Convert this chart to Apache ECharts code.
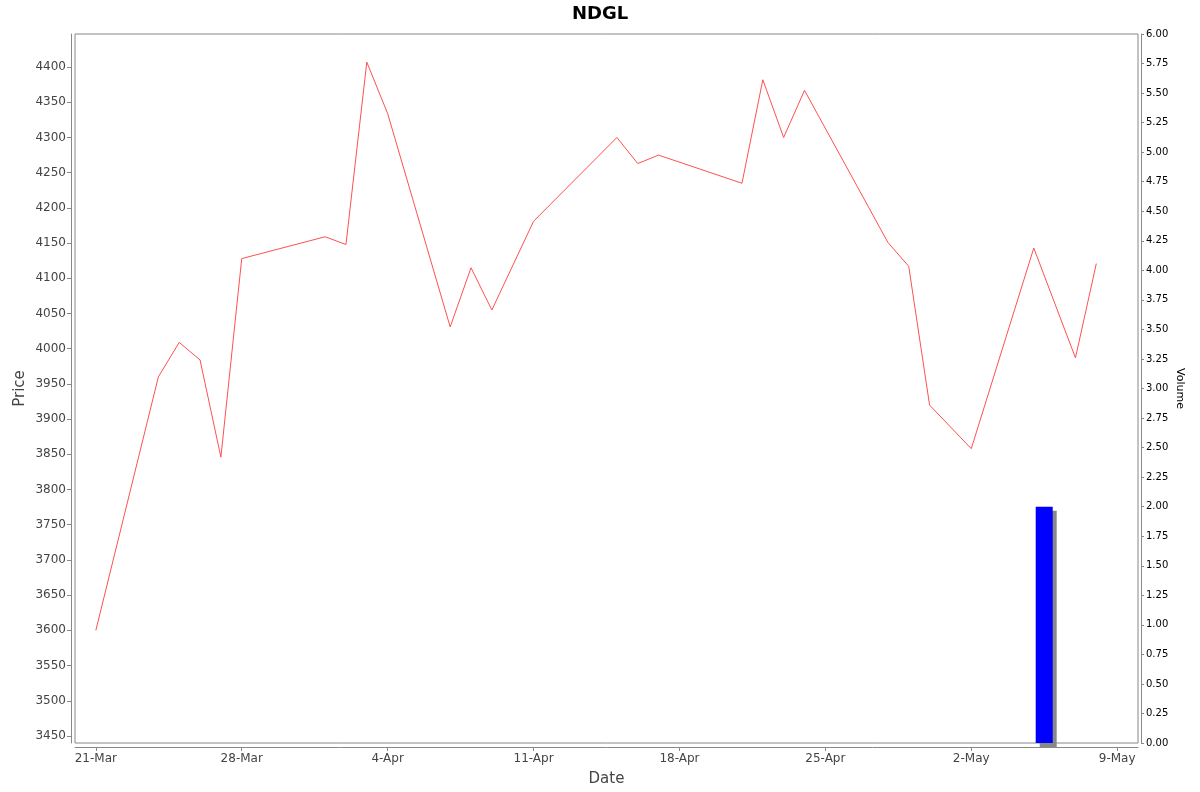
<!DOCTYPE html>
<html><head><meta charset="utf-8">
<script src="https://cdn.jsdelivr.net/npm/echarts@6/dist/echarts.min.js"></script>
<style>html,body{margin:0;padding:0;background:#fff}#c{width:1200px;height:792px}</style>
</head><body><div id="c"></div>
<script>
const dates = ['2025-03-21','2025-03-24','2025-03-25','2025-03-26','2025-03-27','2025-03-28',
 '2025-04-01','2025-04-02','2025-04-03','2025-04-04','2025-04-07','2025-04-08','2025-04-09',
 '2025-04-11','2025-04-15','2025-04-16','2025-04-17','2025-04-21','2025-04-22','2025-04-23',
 '2025-04-24','2025-04-28','2025-04-29','2025-04-30','2025-05-02','2025-05-05','2025-05-07','2025-05-08'];
const prices = [3600,3960,4009,3984,3846,4128,4159,4148,4407,4334,4031,4115,4055,4181,4300,4263,4275,4235,4382,4300,4367,4151,4117,3920,3858,4143,3987,4121];
const volumeDates = ['2025-05-05 12:00'];
const volumes = [2];
const xTickDates = ['2025-03-21','2025-03-28','2025-04-04','2025-04-11','2025-04-18','2025-04-25','2025-05-02','2025-05-09'];
const priceTicks = [3450,3500,3550,3600,3650,3700,3750,3800,3850,3900,3950,4000,4050,4100,4150,4200,4250,4300,4350,4400];
const monthNames = ['Jan','Feb','Mar','Apr','May','Jun','Jul','Aug','Sep','Oct','Nov','Dec'];

function toMs(s){
  const m = s.match(/^(\d+)-(\d+)-(\d+)(?: (\d+):(\d+))?$/);
  return new Date(+m[1], +m[2]-1, +m[3], m[4]?+m[4]:0, m[5]?+m[5]:0).getTime();
}
const priceData = dates.map((d,i)=>[toMs(d), prices[i]]);
const volData = volumeDates.map((d,i)=>[toMs(d), volumes[i]]);
const xTicks = xTickDates.map(toMs);

const chart = echarts.init(document.getElementById('c'));
chart.setOption({
  animation:false,
  backgroundColor:'#fff',
  title:{text:'NDGL', left:'center', top:3, padding:[2,5], textStyle:{fontFamily:'DejaVu Sans', fontWeight:'bold', fontSize:18, color:'#000'}},
  grid:{left:75, right:62, top:34, bottom:49, show:true, borderColor:'#888', borderWidth:1, backgroundColor:'#fff'},
  xAxis:{
    type:'value', min:toMs('2025-03-20'), max:toMs('2025-05-10'), offset:4, scale:true,
    name:'Date', nameLocation:'middle', nameGap:25, nameMoveOverlap:false,
    nameTextStyle:{fontFamily:'DejaVu Sans', fontSize:15, color:'#444'},
    axisLine:{show:true, onZero:false, lineStyle:{color:'#888'}},
    axisTick:{show:true, length:4, customValues:xTicks, lineStyle:{color:'#888'}},
    axisLabel:{customValues:xTicks, color:'#444', fontFamily:'DejaVu Sans', fontSize:12, margin:6,
      formatter:v=>{const d=new Date(v);return d.getDate()+'-'+monthNames[d.getMonth()];}},
    splitLine:{show:false}
  },
  yAxis:[{
    type:'value', min:3440, max:4447, offset:4, position:'left',
    name:'Price', nameLocation:'middle', nameGap:43, nameMoveOverlap:false,
    nameTextStyle:{fontFamily:'DejaVu Sans', fontSize:15, color:'#444'},
    axisLine:{show:true, onZero:false, lineStyle:{color:'#888'}},
    axisTick:{show:true, length:4, customValues:priceTicks, lineStyle:{color:'#888'}},
    axisLabel:{customValues:priceTicks, color:'#444', fontFamily:'DejaVu Sans', fontSize:12, margin:5, formatter:v=>String(v)},
    splitLine:{show:false}
  },{
    type:'value', min:0, max:6, interval:0.25, offset:3, position:'right',
    name:'Volume', nameLocation:'middle', nameGap:33, nameRotate:-90, nameMoveOverlap:false,
    nameTextStyle:{fontFamily:'DejaVu Sans', fontSize:11, color:'#000'},
    axisLine:{show:true, onZero:false, lineStyle:{color:'#888'}},
    axisTick:{show:true, length:3, lineStyle:{color:'#888'}},
    axisLabel:{color:'#000', fontFamily:'DejaVu Sans', fontSize:10, margin:5, formatter:v=>v.toFixed(2)},
    splitLine:{show:false}
  }],
  series:[{
    type:'bar', yAxisIndex:1, data:volData, barWidth:17,
    itemStyle:{color:'#0000ff', shadowColor:'#888', shadowOffsetX:4, shadowOffsetY:4, shadowBlur:0},
    z:1
  },{
    type:'line', data:priceData, showSymbol:false, symbol:'none',
    lineStyle:{color:'#ff5050', width:1}, z:2
  }]
});
</script></body></html>
